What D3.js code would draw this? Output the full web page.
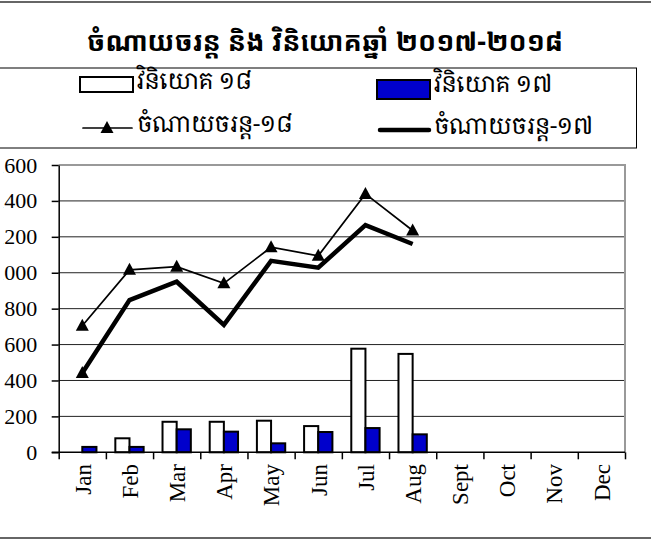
<!DOCTYPE html>
<html>
<head>
<meta charset="utf-8">
<script src="https://cdn.jsdelivr.net/npm/d3@7"></script>
<style>
  body { margin: 0; background: #fff; }
  svg { display: block; }
</style>
</head>
<body>
<div id="chart-area"></div>
<script>
// Data
var months = ['Jan', 'Feb', 'Mar', 'Apr', 'May', 'Jun', 'Jul', 'Aug', 'Sept', 'Oct', 'Nov', 'Dec'];
var invest18 = [0, 78, 170, 170, 176, 146, 577, 548];
var invest17 = [30, 30, 128, 115, 50, 113, 135, 100];
var spend18 = [705, 1016, 1034, 941, 1142, 1094, 1439, 1235];
var spend17 = [442, 848, 950, 710, 1066, 1028, 1265, 1160];
var yTicks = [0, 200, 400, 600, 800, 1000, 1200, 1400, 1600];

var titleText = 'ចំណាយចរន្ត និង វិនិយោគឆ្នាំ ២០១៧-២០១៨';
var legendLabels = ['វិនិយោគ ១៨', 'វិនិយោគ ១៧', 'ចំណាយចរន្ត-១៨', 'ចំណាយចរន្ត-១៧'];

var width = 651, height = 540;
var plot = { left: 58.7, right: 625, top: 165, bottom: 452.3 };
var khmerFont = '"Khmer OS", "Khmer OS System", "Noto Sans Khmer", "Noto Serif Khmer", "Noto Sans", sans-serif';
var khmerSerif = '"Noto Serif Khmer", "Khmer OS", "Noto Sans Khmer", serif';
var serif = '"Liberation Serif", "Times New Roman", serif';

var svg = d3.select('#chart-area')
  .append('svg')
    .attr('width', width)
    .attr('height', height);

// outer frame (sides are cropped)
svg.append('line')
  .attr('x1', 0).attr('x2', width).attr('y1', 2).attr('y2', 2)
  .attr('stroke', '#666').attr('stroke-width', 2);
svg.append('line')
  .attr('x1', 0).attr('x2', width).attr('y1', 538).attr('y2', 538)
  .attr('stroke', '#666').attr('stroke-width', 2);

// Title
svg.append('text')
  .attr('x', 325)
  .attr('y', 51)
  .attr('text-anchor', 'middle')
  .attr('font-family', khmerFont)
  .attr('font-weight', 'bold')
  .attr('font-size', '27px')
  .text(titleText);

// Scales
var x = d3.scaleBand()
  .domain(months)
  .range([plot.left, plot.right]);

var xEdge = d3.scaleLinear()
  .domain([0, months.length])
  .range([plot.left, plot.right]);

var y = d3.scaleLinear()
  .domain([0, 1600])
  .range([plot.bottom, plot.top]);

// Gridlines
svg.append('g')
  .selectAll('line')
  .data(yTicks.filter(function(d) { return d > 0 && d < 1600; }))
  .enter().append('line')
    .attr('x1', plot.left).attr('x2', plot.right)
    .attr('y1', function(d) { return y(d); })
    .attr('y2', function(d) { return y(d); })
    .attr('stroke', '#222')
    .attr('stroke-width', 1);

// plot border top + right (grey)
svg.append('path')
  .attr('d', 'M' + plot.left + ',' + y(1600) + 'H' + plot.right + 'V' + y(0))
  .attr('fill', 'none')
  .attr('stroke', '#999')
  .attr('stroke-width', 2);

// Bars
var barW = x.bandwidth() * 0.3;
var bars = svg.append('g');

bars.selectAll('rect.b18')
  .data(invest18.map(function(v, i) { return { m: months[i], v: v }; }).filter(function(d) { return d.v > 0; }))
  .enter().append('rect')
    .attr('class', 'b18')
    .attr('x', function(d) { return x(d.m) + x.bandwidth() / 2 - barW; })
    .attr('y', function(d) { return y(d.v); })
    .attr('width', barW)
    .attr('height', function(d) { return y(0) - y(d.v); })
    .attr('fill', '#fff')
    .attr('stroke', '#000')
    .attr('stroke-width', 2);

bars.selectAll('rect.b17')
  .data(invest17.map(function(v, i) { return { m: months[i], v: v }; }).filter(function(d) { return d.v > 0; }))
  .enter().append('rect')
    .attr('class', 'b17')
    .attr('x', function(d) { return x(d.m) + x.bandwidth() / 2; })
    .attr('y', function(d) { return y(d.v); })
    .attr('width', barW)
    .attr('height', function(d) { return y(0) - y(d.v); })
    .attr('fill', '#0000cc')
    .attr('stroke', '#000')
    .attr('stroke-width', 2);

// Axes
var yAxis = d3.axisLeft(y)
  .tickValues(yTicks)
  .tickFormat(d3.format('d'))
  .tickSize(7)
  .tickSizeOuter(0)
  .tickPadding(14.5);

// the reference picture is cropped on its left edge
svg.append('clipPath').attr('id', 'crop')
  .append('rect').attr('x', 3).attr('y', 0).attr('width', width).attr('height', height);

var yAxisGroup = svg.append('g')
  .attr('clip-path', 'url(#crop)')
  .append('g')
  .attr('transform', 'translate(' + plot.left + ',0)')
  .call(yAxis);
yAxisGroup.selectAll('text')
  .attr('font-family', serif)
  .attr('font-size', '22px')
  .attr('fill', '#000');
yAxisGroup.selectAll('line, path').attr('stroke', '#000').attr('stroke-width', 1.5);

var xAxis = d3.axisBottom(xEdge)
  .ticks(months.length)
  .tickSize(7)
  .tickSizeOuter(0)
  .tickFormat('');

var xAxisGroup = svg.append('g')
  .attr('transform', 'translate(0,' + plot.bottom + ')')
  .call(xAxis);
xAxisGroup.selectAll('line, path').attr('stroke', '#000').attr('stroke-width', 1.5);
xAxisGroup.select('.domain').attr('d', 'M' + (plot.left - 7) + ',0H' + plot.right);

svg.append('g')
  .selectAll('text')
  .data(months)
  .enter().append('text')
    .attr('transform', function(d) {
      return 'translate(' + (x(d) + x.bandwidth() / 2) + ',464) rotate(-90)';
    })
    .attr('dy', '0.36em')
    .attr('text-anchor', 'end')
    .attr('font-family', serif)
    .attr('font-size', '23px')
    .text(function(d) { return d; });

// Lines
var line = d3.line()
  .x(function(d, i) { return x(months[i]) + x.bandwidth() / 2; })
  .y(function(d) { return y(d); });

svg.append('path')
  .datum(spend17)
  .attr('d', line)
  .attr('fill', 'none')
  .attr('stroke', '#000')
  .attr('stroke-width', 4.5)
  .attr('stroke-linejoin', 'miter');

svg.append('path')
  .datum(spend18)
  .attr('d', line)
  .attr('fill', 'none')
  .attr('stroke', '#000')
  .attr('stroke-width', 1.7);

var tri = 'M0,-7L6.5,5L-6.5,5Z';

svg.append('g')
  .selectAll('path')
  .data(spend18)
  .enter().append('path')
    .attr('d', tri)
    .attr('transform', function(d, i) {
      return 'translate(' + (x(months[i]) + x.bandwidth() / 2) + ',' + y(d) + ')';
    })
    .attr('fill', '#000');

// the thick series carries a marker on its first point only
svg.append('path')
  .attr('d', tri)
  .attr('transform', 'translate(' + (x(months[0]) + x.bandwidth() / 2) + ',' + y(spend17[0]) + ')')
  .attr('fill', '#000');

// Legend
var legend = svg.append('g');
legend.append('rect')
  .attr('x', -10).attr('y', 68)
  .attr('width', 646.5).attr('height', 80)
  .attr('fill', '#fff')
  .attr('stroke', '#000')
  .attr('stroke-width', 1);

var legendItems = [
  { label: legendLabels[0], kind: 'bar', fill: '#fff', x: 80, y: 85 },
  { label: legendLabels[1], kind: 'bar', fill: '#0000cc', x: 377, y: 88 },
  { label: legendLabels[2], kind: 'thin', x: 80, y: 128 },
  { label: legendLabels[3], kind: 'thick', x: 377, y: 130 }
];

legendItems.forEach(function(d) {
  var g = legend.append('g').attr('transform', 'translate(' + d.x + ',' + d.y + ')');
  if (d.kind === 'bar') {
    g.append('rect')
      .attr('x', 0).attr('y', -8)
      .attr('width', 53).attr('height', d.fill === '#fff' ? 15 : 19)
      .attr('fill', d.fill)
      .attr('stroke', '#000')
      .attr('stroke-width', 2);
  } else {
    g.append('line')
      .attr('x1', 3).attr('x2', 52)
      .attr('stroke', '#000')
      .attr('stroke-linecap', 'round')
      .attr('stroke-width', d.kind === 'thick' ? 4.5 : 1.7);
    if (d.kind === 'thin') {
      g.append('path').attr('d', tri).attr('transform', 'translate(27,0)').attr('fill', '#000');
    }
  }
  g.append('text')
    .attr('x', 57)
    .attr('y', 4)
    .attr('font-family', khmerSerif)
    .attr('font-size', '23px')
    .text(d.label);
});
</script>
</body>
</html>
